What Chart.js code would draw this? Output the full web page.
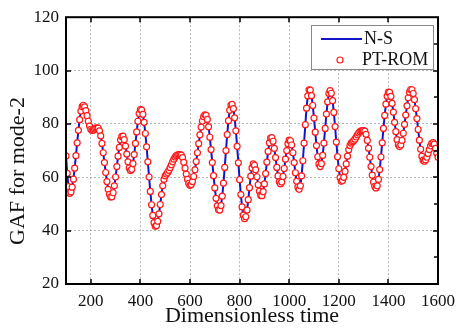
<!DOCTYPE html>
<html>
<head>
<meta charset="utf-8">
<script src="https://cdn.jsdelivr.net/npm/chart.js@4/dist/chart.umd.min.js"></script>
<style>
  html, body { margin: 0; padding: 0; background: #fff; }
  #gafChart { display: block; }
</style>
</head>
<body>
<canvas id="gafChart" width="462" height="329"></canvas>
<script>
// time axis: samples every 5 time units from 100 to 1600
const timeStart = 100;
const timeStep = 5;

// GAF for mode-2, N-S solution
const gafNS = [
    68, 61.5, 56.5, 54, 54.5, 56.3, 59.3, 63.4, 68.1, 72.9,
    77.6, 81.6, 84.8, 86.5, 87, 86.4, 85, 83.1, 81, 79.2,
    78, 77.5, 77.7, 78.1, 78.4, 78.5, 78.4, 77.4, 75.5, 72.7,
    69.2, 65.5, 61.8, 58.4, 55.5, 53.6, 52.6, 52.7, 54.2, 56.8,
    60.1, 64, 67.9, 71.2, 74, 75.3, 75.4, 74.1, 71.7, 68.7,
    65.8, 63.5, 62.5, 63, 65.1, 68.5, 72.7, 77, 81, 83.9,
    85.4, 85.2, 83.6, 80.6, 76.4, 71.4, 65.8, 60.1, 54.7, 49.7,
    45.7, 43, 41.6, 41.9, 43.5, 46.3, 49.8, 53.5, 56.8, 59.2,
    60.5, 61.2, 61.8, 62.6, 63.6, 64.7, 65.8, 66.8, 67.6, 68.1,
    68.4, 68.5, 68.5, 68.3, 67.4, 65.6, 63.4, 61.2, 59.2, 57.7,
    57, 57.3, 58.4, 60.3, 62.8, 65.9, 69.2, 72.6, 75.9, 78.8,
    81.1, 82.7, 83.4, 83.2, 81.7, 78.9, 75, 70.4, 65.5, 60.6,
    56, 52.1, 49.3, 47.8, 47.7, 49.4, 52.9, 57.8, 63.7, 70,
    76, 81.2, 85.1, 87.1, 87.3, 85.7, 82.3, 77.4, 71.6, 65.4,
    59.1, 53.5, 48.9, 45.8, 44.5, 45.2, 47.7, 51.6, 56.1, 60.4,
    63.5, 65, 64.5, 62.8, 60.2, 57.2, 54.8, 53.3, 53.1, 54.6,
    57.5, 61.4, 65.7, 69.7, 72.9, 74.7, 74.9, 73.5, 70.8, 67.4,
    63.7, 60.5, 58.3, 57.5, 58.2, 60.3, 63.3, 66.8, 70, 72.6,
    73.9, 73.7, 72.1, 69.2, 65.5, 61.7, 58.5, 56.3, 55.5, 56.8,
    60.5, 66.2, 72.8, 79.7, 85.9, 90.5, 92.8, 92.7, 90.6, 86.9,
    82.2, 76.9, 71.9, 67.7, 65, 64, 65.1, 68.2, 72.8, 78.3,
    83.7, 88.3, 91.4, 92.5, 91.5, 88.7, 84.3, 79, 73.2, 67.7,
    63.2, 59.9, 58.5, 58.8, 60, 62.2, 65, 67.9, 70.3, 71.9,
    72.8, 73.3, 73.7, 74.3, 75.1, 75.9, 76.6, 77.1, 77.4, 77.5,
    77.5, 77.3, 76.1, 73.8, 70.9, 67.5, 64, 60.8, 58.2, 56.6,
    56, 56.8, 59.2, 62.9, 67.6, 72.9, 78.3, 83.2, 87.4, 90.4,
    91.9, 91.8, 90.3, 87.7, 84.4, 80.6, 77.1, 74.1, 72.2, 71.5,
    72.1, 73.8, 76.5, 79.8, 83.3, 86.8, 89.8, 91.9, 92.9, 92.8,
    91.4, 89.1, 85.7, 82, 77.9, 73.9, 70.5, 67.9, 66.4, 66,
    66.5, 67.5, 68.9, 70.4, 71.8, 72.7, 73, 72.4, 70.8, 69,
    67.5
];

// PT-ROM lies on top of N-S everywhere at this resolution
const gafROM = gafNS;

const xTickValues = [200, 400, 600, 800, 1000, 1200, 1400, 1600];
const yTickValues = [20, 40, 60, 80, 100, 120];

const seriesLabels = ['N-S', 'PT-ROM'];
const yTitle = 'GAF for mode-2';
const xTitle = 'Dimensionless time';

const serif = "'Liberation Serif', 'Times New Roman', serif";

function toPoints(values) {
    return values.map((v, i) => ({ x: timeStart + i * timeStep, y: v }));
}

// border, inward ticks, legend box and the y title
const frameAndLegend = {
    id: 'frameAndLegend',
    afterDraw(chart) {
        const ctx = chart.ctx;
        const a = chart.chartArea;
        const xs = chart.scales.x;
        const ys = chart.scales.y;

        ctx.save();
        ctx.strokeStyle = '#000';
        ctx.lineWidth = 1.5;
        ctx.beginPath();
        xTickValues.forEach(v => {
            const px = Math.round(xs.getPixelForValue(v));
            ctx.moveTo(px, a.bottom); ctx.lineTo(px, a.bottom - 5);
            ctx.moveTo(px, a.top); ctx.lineTo(px, a.top + 5);
        });
        for (let v = 30; v < 120; v += 10) {
            const py = Math.round(ys.getPixelForValue(v));
            if (v % 20 === 0) {
                ctx.moveTo(a.left, py); ctx.lineTo(a.left + 5, py);
                ctx.moveTo(a.right, py); ctx.lineTo(a.right - 5, py);
            } else {
                ctx.moveTo(a.right, py); ctx.lineTo(a.right - 4, py);
            }
        }
        ctx.stroke();

        ctx.lineWidth = 2;
        ctx.strokeRect(a.left, a.top, a.right - a.left, a.bottom - a.top);

        // legend
        const ds = chart.data.datasets;
        const box = { x: 311, y: 25, w: 122, h: 44 };
        ctx.fillStyle = '#fff';
        ctx.fillRect(box.x, box.y, box.w, box.h);
        ctx.strokeStyle = '#888';
        ctx.lineWidth = 1;
        ctx.strokeRect(box.x + 0.5, box.y + 0.5, box.w, box.h);

        ctx.strokeStyle = ds[0].borderColor;
        ctx.lineWidth = 2;
        ctx.beginPath();
        ctx.moveTo(321, 39); ctx.lineTo(362, 39);
        ctx.stroke();

        ctx.strokeStyle = ds[1].pointBorderColor;
        ctx.fillStyle = '#fff';
        ctx.lineWidth = 1.2;
        ctx.beginPath();
        ctx.arc(340, 60, 3, 0, Math.PI * 2);
        ctx.fill();
        ctx.stroke();

        ctx.fillStyle = '#111';
        ctx.font = '18px ' + serif;
        ctx.textAlign = 'left';
        ctx.textBaseline = 'middle';
        ctx.fillText(ds[0].label, 364, 39);
        ctx.fillText(ds[1].label, 362, 60);

        // y title
        ctx.save();
        ctx.translate(18, 171);
        ctx.rotate(-Math.PI / 2);
        ctx.font = '22px ' + serif;
        ctx.textAlign = 'center';
        ctx.textBaseline = 'middle';
        ctx.fillText(yTitle, 0, 0);
        ctx.restore();

        ctx.restore();
    }
};

const ctx = document.getElementById('gafChart').getContext('2d');
new Chart(ctx, {
    type: 'line',
    data: {
        datasets: [
            {
                label: seriesLabels[0],
                data: toPoints(gafNS),
                borderColor: '#1414c8',
                borderWidth: 2,
                pointRadius: 0,
                tension: 0,
                order: 2
            },
            {
                label: seriesLabels[1],
                data: toPoints(gafROM),
                showLine: false,
                pointRadius: 3,
                pointBorderWidth: 1.2,
                pointBorderColor: '#ff1a1a',
                pointBackgroundColor: '#fff',
                order: 1
            }
        ]
    },
    options: {
        responsive: false,
        animation: false,
        devicePixelRatio: 1,
        layout: { padding: { left: 0, right: 19, top: 15, bottom: 0 } },
        plugins: {
            legend: { display: false },
            tooltip: { enabled: false }
        },
        scales: {
            x: {
                type: 'linear',
                min: 100,
                max: 1600,
                afterBuildTicks: scale => {
                    scale.ticks = xTickValues.map(v => ({ value: v }));
                },
                afterFit: scale => { scale.height = 45; },
                ticks: {
                    color: '#111',
                    padding: 7,
                    maxRotation: 0,
                    callback: v => String(v),
                    font: { family: serif, size: 17 }
                },
                grid: { color: '#b4b4b4', lineWidth: 1, drawTicks: false },
                border: { display: false, dash: [2, 2] },
                title: {
                    display: true,
                    text: xTitle,
                    color: '#111',
                    font: { family: serif, size: 22 },
                    padding: { top: 0, bottom: 0 }
                }
            },
            y: {
                min: 20,
                max: 120,
                afterBuildTicks: scale => {
                    scale.ticks = yTickValues.map(v => ({ value: v }));
                },
                afterFit: scale => { scale.width = 66; },
                ticks: {
                    color: '#111',
                    padding: 7,
                    callback: v => String(v),
                    font: { family: serif, size: 17 }
                },
                grid: { color: '#b4b4b4', lineWidth: 1, drawTicks: false },
                border: { display: false, dash: [2, 2] }
            }
        }
    },
    plugins: [frameAndLegend]
});
</script>
</body>
</html>
